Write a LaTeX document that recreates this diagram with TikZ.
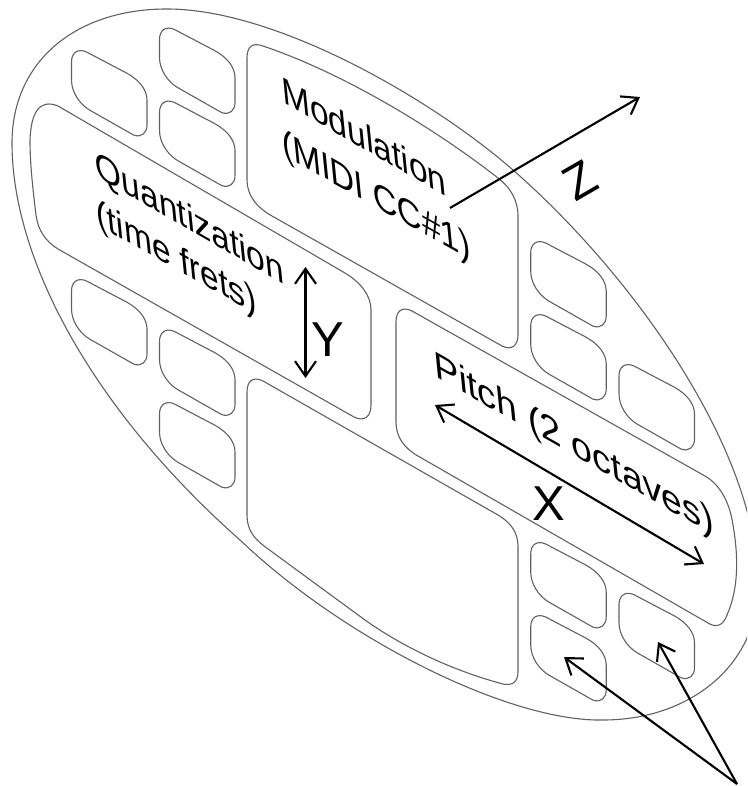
\documentclass[tikz,border=0pt]{standalone}
\usepackage{fontspec}
\setmainfont{Liberation Sans}
\usetikzlibrary{arrows.meta}
\tikzset{
  outl/.style={draw=black!62,line width=1.1pt,line join=round},
  ptr/.style={draw=black,line width=2.1pt,{Straight Barb[length=15pt,width=21pt,line width=2.1pt]}-{Straight Barb[length=15pt,width=21pt,line width=2.1pt]}},
  ptrone/.style={draw=black,line width=2.1pt,-{Straight Barb[length=15pt,width=21pt,line width=2.1pt]}},
  skewlab/.style={anchor=base west,inner sep=0pt,outer sep=0pt,transform shape,font=\fontsize{38}{44}\selectfont},
  axlab/.style={inner sep=0pt,font=\fontsize{49}{54}\selectfont}
}
\newcommand{\btn}[2]{\draw[outl,shift={(#1,#2)}] (0,12) .. controls (0,3) and (6,-2) .. (15,2) -- (55,23) .. controls (68,30) and (75.5,40) .. (75.5,50) -- (75.5,75) .. controls (75.5,83) and (70,88) .. (62,85) -- (18,60) .. controls (8,54) and (0,42) .. (0,30) -- cycle;}
\begin{document}
\begin{tikzpicture}[x=1pt,y=-1pt]
\useasboundingbox (0,0) rectangle (747,786);
\begin{scope}
\clip (0,0) rectangle (747,786);
\draw[outl] (167,9) .. controls (277,9) and (433,100) .. (513,170) .. controls (633,275) and (758,450) .. (758,586) .. controls (758,665) and (690,720) .. (603,720) .. controls (510,722) and (345,640) .. (240,540) .. controls (93,410) and (12,260) .. (12,143) .. controls (12,62) and (75,9) .. (167,9) -- cycle;
\end{scope}
% big panels
\draw[outl] (247,58) .. controls (247,47) and (252,42) .. (263,46) .. controls (340,72) and (430,125) .. (498,178) .. controls (510,187) and (518,200) .. (518,216) -- (518,335) .. controls (518,345) and (512,351) .. (502,346) -- (272,216) .. controls (256,207) and (247,195) .. (247,180) -- cycle;
\draw[outl] (30,140) .. controls (31,115) and (38,98) .. (58,106) -- (345,273) .. controls (360,282) and (371,295) .. (371,310) -- (371,405) .. controls (371,417) and (364,422) .. (354,417) -- (58,249) .. controls (45,241) and (38,230) .. (36,215) .. controls (33,190) and (30,165) .. (30,140) -- cycle;
\draw[outl] (396,322) .. controls (396,311) and (402,306) .. (412,311) -- (705,476) .. controls (722,486) and (730,505) .. (733,525) .. controls (739,560) and (738,590) .. (727,615) .. controls (723,626) and (716,628) .. (708,623) -- (418,456) .. controls (404,448) and (396,437) .. (396,422) -- cycle;
\draw[outl] (247,392) .. controls (247,381) and (253,376) .. (263,381) -- (498,515) .. controls (510,522) and (518,532) .. (518,546) -- (518,672) .. controls (518,682) and (512,686) .. (503,684) .. controls (450,670) and (400,645) .. (365,620) -- (264,546) .. controls (254,538) and (247,530) .. (247,515) -- cycle;
% small buttons
\btn{71.5}{50}\btn{159.5}{27.5}\btn{159.5}{100.5}
\btn{71.5}{279}\btn{159.5}{329.5}\btn{159.5}{402}
\btn{530.7}{241}\btn{530.7}{314}\btn{619}{364}
\btn{530.7}{542}\btn{530.7}{615}\btn{619}{592.7}
% labels
\node[skewlab,cm={0.885,-0.505,-0.1,1,(283,103)}] (modA) {Modulation};
\node[skewlab,cm={0.885,-0.495,-0.1,1,(283,155)}] (modB) {(MIDI CC\#1)};
\node[skewlab,cm={0.885,-0.505,-0.1,1,(96.5,177)}] (quantA) {Quantization};
\node[skewlab,cm={0.885,-0.495,-0.1,1,(97,225)}] (quantB) {(time frets)};
\node[skewlab,cm={0.99,-0.565,-0.1,1,(435,376)}] (pitch) {Pitch (2 octaves)};
\node[axlab] (ylab) at (328,340) {Y};
\node[axlab] (xlab) at (549,504) {X};
\node[axlab,rotate=30] (zlab) at (580,180) {Z};
% arrows
\coordinate (yt) at (305.5,267);
\coordinate (yb) at (305.5,378);
\coordinate (zs) at (450,208);
\coordinate (ze) at (640,97);
\coordinate (xa) at (435,405);
\coordinate (xb) at (704,564);
\coordinate (src) at (737,784);
\coordinate (ba) at (564,657);
\coordinate (bb) at (658,642);
\draw[ptr] (yt) -- (yb);
\draw[ptr] (xa) -- (xb);
\draw[ptrone] (zs) -- (ze);
\draw[ptrone] (src) -- (ba);
\draw[ptrone] (src) -- (bb);
\end{tikzpicture}
\end{document}
